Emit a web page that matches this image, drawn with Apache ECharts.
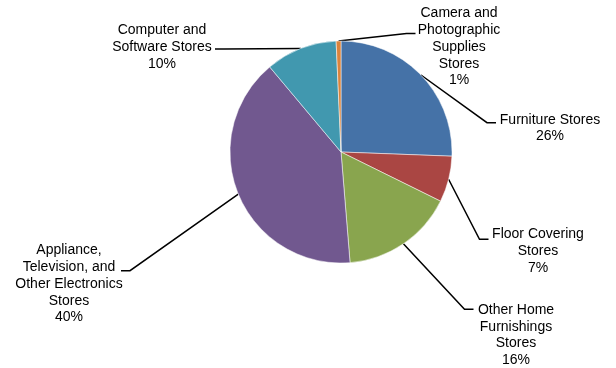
<!DOCTYPE html>
<html>
<head>
<meta charset="utf-8">
<script src="https://cdn.jsdelivr.net/npm/echarts@6/dist/echarts.min.js"></script>
<style>html,body{margin:0;padding:0;background:#fff;}#c{width:616px;height:368px;}</style>
</head>
<body>
<div id="c"></div>
<script>
// ---- data ----
const categories = [
  'Furniture Stores',
  'Floor Covering\nStores',
  'Other Home\nFurnishings\nStores',
  'Appliance,\nTelevision, and\nOther Electronics\nStores',
  'Computer and\nSoftware Stores',
  'Camera and\nPhotographic\nSupplies\nStores'
];
const values = [25.6, 6.7, 16.4, 40.2, 10.4, 0.7];
const colors = ['#4572A7', '#AA4643', '#89A54E', '#71588F', '#4198AF', '#DB843D'];

// ---- layout (label placement, not data) ----
const CENTER = [341, 152];
const RADIUS = 111;
const labelPlace = [
  { x: 550, y: 128, end: [496, 122.7], side: 'r' },
  { x: 538, y: 251, end: [488.5, 239.3], side: 'r' },
  { x: 516, y: 335, end: [473.5, 309.3], side: 'r' },
  { x: 69,  y: 284, end: [121, 270.7], side: 'l' },
  { x: 162, y: 47,  end: [215, 49], side: 'l' },
  { x: 459, y: 47,  end: [415.5, 33.5], side: 'r' }
];

const total = values.reduce((a, b) => a + b, 0);
const midAngles = [];
(function () {
  let cum = 0;
  values.forEach(v => { midAngles.push((cum + v / 2) / total * Math.PI * 2); cum += v; });
})();

const chart = echarts.init(document.getElementById('c'), null, { renderer: 'canvas' });
chart.setOption({
  animation: false,
  backgroundColor: '#fff',
  series: [{
    type: 'pie',
    center: CENTER,
    radius: RADIUS,
    startAngle: 90,
    clockwise: true,
    avoidLabelOverlap: false,
    data: categories.map((n, i) => ({ name: n, value: values[i], itemStyle: { color: colors[i] } })),
    itemStyle: { borderColor: '#ffffff', borderWidth: 0.5 },
    label: {
      show: true,
      position: 'outside',
      formatter: p => p.name + '\n' + Math.round(p.value / total * 100) + '%',
      fontFamily: 'Liberation Sans, Arial, sans-serif',
      fontSize: 14,
      lineHeight: 16.7,
      color: '#000',
      align: 'center'
    },
    labelLine: { show: true, smooth: false, lineStyle: { color: '#000', width: 1.5 } },
    emphasis: { disabled: true },
    labelLayout: function (params) {
      const i = params.dataIndex;
      const L = labelPlace[i];
      const a = midAngles[i];
      const p0 = [CENTER[0] + RADIUS * Math.sin(a), CENTER[1] - RADIUS * Math.cos(a)];
      const bend = [L.end[0] + (L.side === 'r' ? -9 : 9), L.end[1]];
      return {
        x: L.x, y: L.y, align: 'center', verticalAlign: 'middle',
        labelLinePoints: [p0, bend, L.end]
      };
    }
  }]
});
</script>
</body>
</html>
